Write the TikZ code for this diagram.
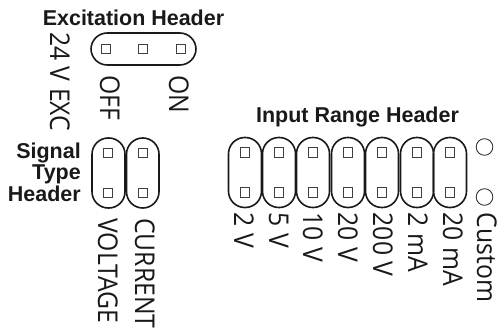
\documentclass[tikz,border=0pt]{standalone}
\usepackage{fontspec}
\setmainfont[FakeStretch=0.91]{Open Sans}
\newfontfamily\hdfont{Liberation Sans}
\begin{document}
\begin{tikzpicture}[x=0.75pt,y=-0.75pt,
  pill/.style={draw=black!90,line width=1.2pt,rounded corners=12.2pt,fill=none},
  pad/.style={draw=black!75,line width=0.7pt,fill=none},
  hole/.style={draw=black!85,line width=0.6pt,fill=none},
  hdr/.style={font=\hdfont\bfseries\fontsize{16.1}{16}\selectfont,text=black!90,inner sep=0pt},
  lbl/.style={font=\fontsize{20.4}{18}\selectfont,text=black!90,rotate=-90,anchor=base west,inner sep=0pt}]
\useasboundingbox (0,0) rectangle (498,331);
\newcommand{\padat}[2]{\draw[pad] (#1-4.8,#2-4.8) rectangle (#1+4.8,#2+4.8);}
\newcommand{\vpill}[1]{\draw[pill] (#1-16.5,137.5) rectangle (#1+16.5,207.5);
  \padat{#1}{152.5}\padat{#1}{192.5}}
% excitation
\node[hdr] (exchdr) at (133.5,18) {Excitation Header};
\draw[pill] (91,33) rectangle (196,65);
\padat{106}{49}\padat{143}{49}\padat{181}{49}
\node[lbl] (exc) at (50,32) {24 V EXC};
\node[lbl] (off) at (100,75) {OFF};
\node[lbl] (on) at (169,75) {ON};
% signal
\node[hdr,align=right,anchor=east] (sighdr) at (81,172) {Signal\\Type\\Header};
\draw[pill] (92,138) rectangle (125,208);
\draw[pill] (126.5,138) rectangle (159,208);
\padat{108}{153}\padat{108}{193}\padat{143}{153}\padat{143}{193}
\node[lbl] (volt) at (98,218) {VOLTAGE};
\node[lbl] (curr) at (135,218) {CURRENT};
% range
\node[hdr] (rnghdr) at (357.5,117) {Input Range Header};
\vpill{245}\vpill{279}\vpill{313}\vpill{348}\vpill{382}\vpill{417}\vpill{450}
\draw[hole] (484.5,147) circle (8.3);
\draw[hole] (484.5,197) circle (8.3);
\node[lbl] (r1) at (234,212.5) {2 V};
\node[lbl] (r2) at (269,212.5) {5 V};
\node[lbl] (r3) at (303,212.5) {10 V};
\node[lbl] (r4) at (338,212.5) {20 V};
\node[lbl] (r5) at (373,212.5) {200 V};
\node[lbl] (r6) at (408,212.5) {2 mA};
\node[lbl] (r7) at (443,212.5) {20 mA};
\node[lbl] (r8) at (477,212.5) {Custom};
\end{tikzpicture}
\end{document}
